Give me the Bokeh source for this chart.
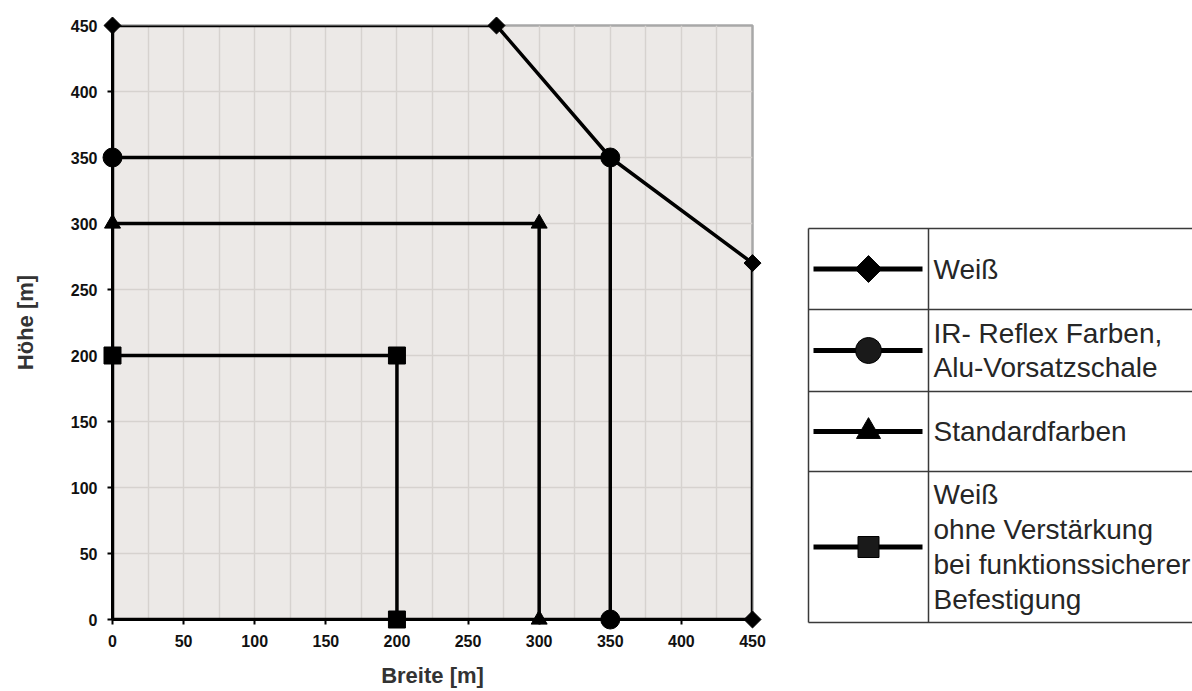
import math
from bokeh.plotting import figure
from bokeh.layouts import row
from bokeh.models import Range1d, FixedTicker
from bokeh.core.properties import value
from bokeh.embed import file_html
from bokeh.resources import INLINE

# ---------------- data ----------------
series_names = [
    "Weiß",
    "IR- Reflex Farben,\nAlu-Vorsatzschale",
    "Standardfarben",
    "Weiß\nohne Verstärkung\nbei funktionssicherer\nBefestigung",
]
series_markers = ["diamond", "circle", "triangle", "square"]

# Weiß (outer envelope)
weiss_x = [0, 0, 270, 350, 450, 450, 0]
weiss_y = [0, 450, 450, 350, 270, 0, 0]
weiss_mx = [0, 270, 350, 450, 450]
weiss_my = [450, 450, 350, 270, 0]
# IR- Reflex Farben, Alu-Vorsatzschale
ir_x = [0, 350, 350]
ir_y = [350, 350, 0]
# Standardfarben
std_x = [0, 300, 300]
std_y = [300, 300, 0]
# Weiß ohne Verstärkung
sq_x = [0, 200, 200]
sq_y = [200, 200, 0]

x_ticks = [0, 50, 100, 150, 200, 250, 300, 350, 400, 450]
y_ticks = [0, 50, 100, 150, 200, 250, 300, 350, 400, 450]
x_grid = [25 * i for i in range(1, 18)]

FONT = "Liberation Sans"
TOP, BOTTOM = 25, 72
H = 691

# ---------------- chart ----------------
p = figure(width=790, height=H, x_range=Range1d(0, 450), y_range=Range1d(0, 450),
           output_backend="svg", toolbar_location=None,
           min_border_left=112, min_border_right=38, min_border_top=TOP, min_border_bottom=BOTTOM)
p.background_fill_color = "#ece9e7"
p.border_fill_color = "white"
p.outline_line_color = "#a8a8a8"
p.outline_line_width = 2.5

p.xaxis.ticker = FixedTicker(ticks=x_ticks)
p.yaxis.ticker = FixedTicker(ticks=y_ticks)
p.xgrid.ticker = FixedTicker(ticks=x_grid)
p.ygrid.ticker = FixedTicker(ticks=y_ticks[1:-1])
p.grid.grid_line_color = "#d6d2cf"
p.grid.grid_line_width = 1.4

for ax in (p.xaxis, p.yaxis):
    ax.axis_line_color = "black"
    ax.axis_line_width = 3
    ax.major_tick_line_color = "black"
    ax.major_tick_line_width = 2
    ax.major_tick_in = 0
    ax.major_tick_out = 5
    ax.minor_tick_line_color = None
    ax.major_label_text_font = FONT
    ax.major_label_text_font_style = "bold"
    ax.major_label_text_font_size = "16px"
    ax.major_label_text_color = "#111111"
    ax.axis_label_text_font = FONT
    ax.axis_label_text_font_style = "bold"
    ax.axis_label_text_font_size = "22px"
    ax.axis_label_text_color = "#333333"

p.xaxis.axis_label = "Breite [m]"
p.yaxis.axis_label = "Höhe [m]"
p.xaxis.major_label_standoff = 10
p.yaxis.major_label_standoff = 10
p.xaxis.axis_label_standoff = 13
p.yaxis.axis_label_standoff = 30

LW = 3.5
p.line(weiss_x, weiss_y, line_color="black", line_width=LW)
p.line(ir_x, ir_y, line_color="black", line_width=LW)
p.line(std_x, std_y, line_color="black", line_width=LW)
p.line(sq_x, sq_y, line_color="black", line_width=LW)

r1 = p.scatter(weiss_mx, weiss_my, marker="square", angle=math.pi / 4, size=12,
               fill_color="black", line_color="black")
r2 = p.scatter(ir_x, ir_y, marker="circle", size=19, fill_color="black", line_color="black")
r3 = p.scatter(std_x, std_y, marker="triangle", size=16, fill_color="black", line_color="black")
r4 = p.scatter(sq_x, sq_y, marker="square", size=17, fill_color="black", line_color="black")
for r in (r1, r2, r3, r4):
    r.level = "overlay"

# ---------------- legend table (page-pixel coordinates) ----------------
q = figure(width=402, height=H, x_range=Range1d(790, 1192), y_range=Range1d(H - BOTTOM, TOP),
           output_backend="svg", toolbar_location=None,
           min_border_left=0, min_border_right=0, min_border_top=TOP, min_border_bottom=BOTTOM,
           x_axis_type=None, y_axis_type=None)
q.grid.visible = False
q.outline_line_color = None
q.background_fill_color = "white"
q.border_fill_color = "white"

row_edges = [228, 309, 391, 471, 622]
tbl_left, tbl_div, tbl_right = 808, 928, 1200
legend_renderers = []
legend_renderers.append(q.segment(x0=[tbl_left] * len(row_edges), y0=row_edges,
                                  x1=[tbl_right] * len(row_edges), y1=row_edges,
                                  line_color="#3a3a3a", line_width=1.5))
legend_renderers.append(q.segment(x0=[tbl_left, tbl_div], y0=[row_edges[0]] * 2,
                                  x1=[tbl_left, tbl_div], y1=[row_edges[-1]] * 2,
                                  line_color="#3a3a3a", line_width=1.5))

row_mid = [(row_edges[i] + row_edges[i + 1]) / 2 for i in range(4)]
legend_renderers.append(q.segment(x0=[813] * 4, y0=row_mid, x1=[922] * 4, y1=row_mid,
                                  line_color="black", line_width=5))
legend_renderers.append(q.scatter([868], [row_mid[0]], marker="square", angle=math.pi / 4, size=19,
                                  fill_color="black", line_color="black"))
legend_renderers.append(q.scatter([868], [row_mid[1]], marker="circle", size=26,
                                  fill_color="#1a1a1a", line_color="black"))
legend_renderers.append(q.scatter([868], [row_mid[2]], marker="triangle", size=24,
                                  fill_color="black", line_color="black"))
legend_renderers.append(q.scatter([868], [row_mid[3]], marker="square", size=21,
                                  fill_color="#1a1a1a", line_color="black"))
legend_renderers.append(q.text(x=[933] * 4, y=row_mid, text=series_names,
                               text_baseline="middle", text_align="left",
                               text_font=value(FONT), text_font_size="28px",
                               text_color="#262626", text_line_height=1.12))
for r in legend_renderers:
    r.level = "overlay"

layout = row(p, q)
open("out.html", "w").write(file_html(layout, INLINE))
